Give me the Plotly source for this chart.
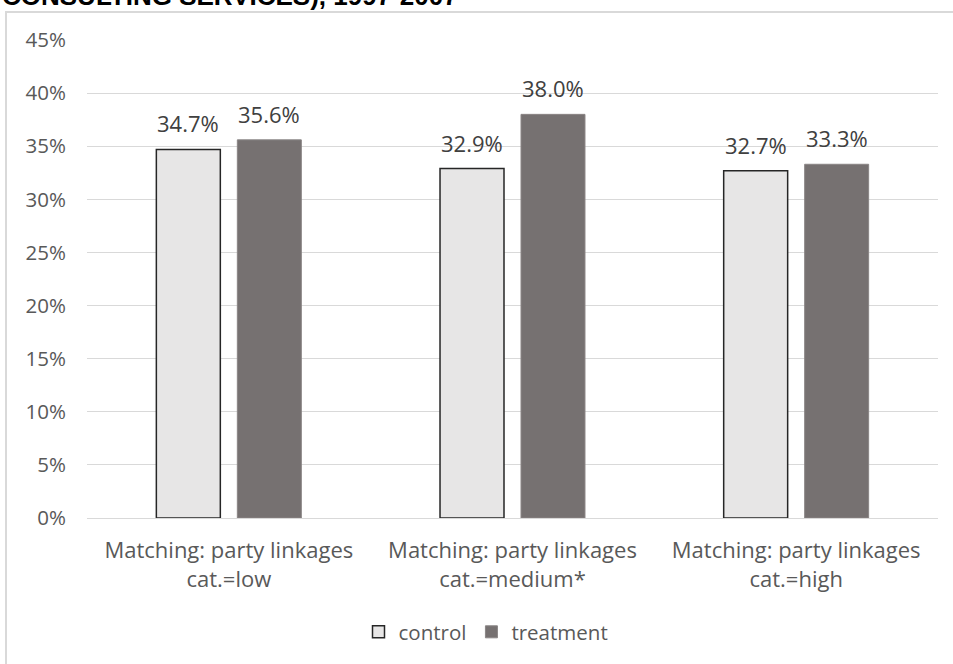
import plotly.graph_objects as go

# Share of contracts by party-linkage category (percent)
categories = [
    "Matching: party linkages<br>cat.=low",
    "Matching: party linkages<br>cat.=medium*",
    "Matching: party linkages<br>cat.=high",
]
control = [34.7, 32.9, 32.7]
treatment = [35.6, 38.0, 33.3]
y_ticks = [0, 5, 10, 15, 20, 25, 30, 35, 40, 45]

W, H = 953, 664
L, R, T, B = 87, 15, 40, 146
plot_w = W - L - R
plot_h = H - T - B

FONT = "Open Sans"
fig = go.Figure()
fig.add_trace(go.Bar(
    name="control", x=categories, y=control,
    marker=dict(color="#E7E6E6", line=dict(color="#262626", width=1.5)),
))
fig.add_trace(go.Bar(
    name="treatment", x=categories, y=treatment,
    marker=dict(color="#767171", line=dict(color="#8a8585", width=1)),
))

# value labels above each bar, offset to the bar's slot within the group
bargap, bargroupgap = 0.429, 0.21
slot = plot_w / len(categories) * (1 - bargap) / 2
for vals, sign in ((control, -1), (treatment, 1)):
    for c, v in zip(categories, vals):
        fig.add_annotation(
            x=c, y=v, text=f"{v:.1f}%", showarrow=False,
            xshift=sign * slot / 2, yshift=9, yanchor="bottom",
            font=dict(family=FONT, size=22, color="#404040"),
        )

# outer chart frame
fig.add_shape(
    type="rect", xref="paper", yref="paper",
    x0=(6 - L) / plot_w, x1=1.3, y0=-0.6, y1=1 + (T - 12) / plot_h,
    line=dict(color="#d9d9d9", width=2), fillcolor="rgba(0,0,0,0)", layer="below",
)

# heading line from the page above the chart
fig.add_annotation(
    xref="paper", yref="paper", x=(0 - L) / plot_w, y=1 + (T - 13) / plot_h,
    xanchor="left", yanchor="bottom", showarrow=False,
    text="<b>CONSULTING SERVICES), 1997-2007</b>",
    font=dict(family="Liberation Sans, Arial", size=26, color="#000000"),
)

fig.update_layout(
    width=W, height=H,
    margin=dict(l=L, r=R, t=T, b=B),
    paper_bgcolor="white", plot_bgcolor="white",
    barmode="group", bargap=bargap, bargroupgap=bargroupgap,
    font=dict(family=FONT, size=20, color="#595959"),
    showlegend=True,
    legend=dict(
        orientation="h", x=(486 - L) / plot_w, y=(T + plot_h - 632) / plot_h,
        xanchor="center", yanchor="middle",
        font=dict(family=FONT, size=20.5, color="#595959"),
        itemwidth=30, traceorder="normal",
    ),
)
fig.update_yaxes(
    range=[0, 45], tickvals=y_ticks, ticktext=[f"{t}%" for t in y_ticks],
    showgrid=True, gridcolor="#d9d9d9", gridwidth=1,
    zeroline=True, zerolinecolor="#d9d9d9", zerolinewidth=1,
    showline=False, ticks="", ticklabelstandoff=20,
    tickfont=dict(family=FONT, size=20.5, color="#595959"),
)
fig.update_xaxes(
    showline=False, ticks="", ticklabelstandoff=17,
    tickfont=dict(family=FONT, size=22, color="#595959"),
)

fig.write_html("out.html")
